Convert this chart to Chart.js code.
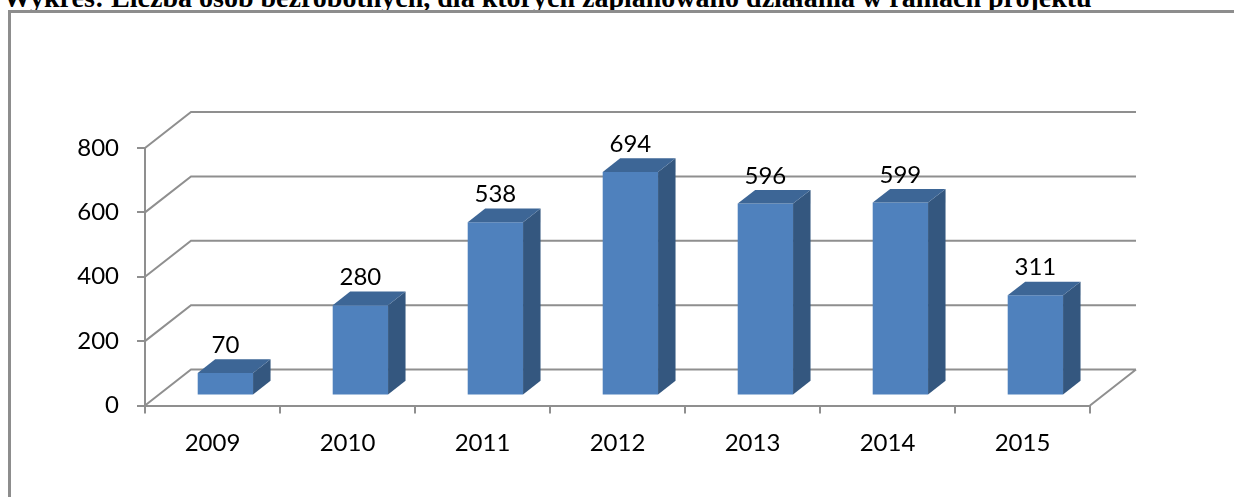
<!DOCTYPE html>
<html lang="pl">
<head>
<meta charset="utf-8">
<title>Liczba osób bezrobotnych</title>
<script src="https://cdn.jsdelivr.net/npm/chart.js@4.4.1/dist/chart.umd.min.js"></script>
<style>
  html, body { margin: 0; padding: 0; background: #fff; overflow: hidden; }
  #page { position: relative; width: 1234px; height: 497px; }
  #title {
    position: absolute; left: 3px; top: -16px;
    font: bold 28px 'Liberation Serif', 'Times New Roman', serif;
    line-height: 28px; white-space: nowrap; color: #000;
  }
  #frame {
    position: absolute; left: 8px; top: 10px; width: 1300px; height: 600px;
    border: 3px solid #8d8d8d; box-sizing: border-box;
  }
  #chart { position: absolute; left: 0; top: 0; }
</style>
</head>
<body>
<div id="page">
  <div id="title">Wykres: Liczba osób bezrobotnych, dla których zaplanowano działania w ramach projektu</div>
  <div id="frame"></div>
  <canvas id="chart" width="1234" height="497"></canvas>
</div>
<script>
const years = ['2009', '2010', '2011', '2012', '2013', '2014', '2015'];
const persons = [70, 280, 538, 694, 596, 599, 311];
const yTicks = [0, 200, 400, 600, 800];

const GRID = '#8f8f8f';
const FRONT = '#4f81bd';
const SIDE = '#34577f';
const TOP = '#3d6696';
const FONT = { family: 'Lato, "Open Sans", sans-serif', size: 24 };

// perspective: depth of the floor / back wall, and where the bars sit inside it
const DEPTH = { x: 46, y: -36 };
const BAR_FRONT = 0.28;
const BAR_DEPTH = 0.38;

const box3d = {
  id: 'box3d',
  beforeDatasetsDraw(chart) {
    const { ctx, chartArea: a, scales: { y } } = chart;
    ctx.save();
    ctx.strokeStyle = GRID;
    ctx.lineWidth = 2;
    ctx.beginPath();
    yTicks.forEach(v => {
      const py = y.getPixelForValue(v);
      ctx.moveTo(a.left, py);
      ctx.lineTo(a.left + DEPTH.x, py + DEPTH.y);
      ctx.lineTo(a.right + DEPTH.x, py + DEPTH.y);
    });
    // right edge of the floor
    const base = y.getPixelForValue(0);
    ctx.moveTo(a.right, base);
    ctx.lineTo(a.right + DEPTH.x, base + DEPTH.y);
    ctx.stroke();
    ctx.restore();
  },
  beforeDatasetDraw(chart) {
    chart.ctx.save();
    chart.ctx.translate(DEPTH.x * BAR_FRONT, DEPTH.y * BAR_FRONT);
  },
  afterDatasetDraw(chart, args) {
    const ctx = chart.ctx;
    const dx = DEPTH.x * BAR_DEPTH, dy = DEPTH.y * BAR_DEPTH;
    args.meta.data.forEach(bar => {
      const l = bar.x - bar.width / 2, r = bar.x + bar.width / 2;
      ctx.fillStyle = SIDE;
      ctx.beginPath();
      ctx.moveTo(r, bar.y);
      ctx.lineTo(r + dx, bar.y + dy);
      ctx.lineTo(r + dx, bar.base + dy);
      ctx.lineTo(r, bar.base);
      ctx.closePath();
      ctx.fill();
      ctx.fillStyle = TOP;
      ctx.beginPath();
      ctx.moveTo(l, bar.y);
      ctx.lineTo(l + dx, bar.y + dy);
      ctx.lineTo(r + dx, bar.y + dy);
      ctx.lineTo(r, bar.y);
      ctx.closePath();
      ctx.fill();
    });
    ctx.restore();
  },
  afterDatasetsDraw(chart) {
    const ctx = chart.ctx;
    const meta = chart.getDatasetMeta(0);
    ctx.save();
    ctx.font = `${FONT.size}px ${FONT.family}`;
    ctx.fillStyle = '#000';
    ctx.textAlign = 'center';
    ctx.textBaseline = 'alphabetic';
    meta.data.forEach((bar, i) => {
      ctx.fillText(String(persons[i]),
        bar.x + DEPTH.x * BAR_FRONT,
        bar.y + DEPTH.y * BAR_FRONT - 20);
    });
    ctx.restore();
  }
};

new Chart(document.getElementById('chart'), {
  type: 'bar',
  data: {
    labels: years,
    datasets: [{
      data: persons,
      backgroundColor: FRONT,
      borderWidth: 0,
      barPercentage: 0.41,
      categoryPercentage: 1,
      clip: false
    }]
  },
  options: {
    responsive: false,
    animation: false,
    layout: { padding: { top: 148, right: 144, left: 0, bottom: 0 } },
    plugins: {
      legend: { display: false },
      tooltip: { enabled: false }
    },
    scales: {
      x: {
        grid: { drawOnChartArea: false, tickLength: 8, color: GRID, lineWidth: 2, offset: true },
        border: { color: GRID, width: 2 },
        ticks: { font: FONT, color: '#000', padding: 15 },
        afterFit: s => { s.height = 91.5; }
      },
      y: {
        min: 0,
        max: 800,
        grid: { drawOnChartArea: false, tickLength: 8, color: GRID, lineWidth: 2 },
        border: { color: GRID, width: 2 },
        ticks: { stepSize: 200, font: FONT, color: '#000', padding: 18 },
        afterFit: s => { s.width = 145; }
      }
    }
  },
  plugins: [box3d]
});
</script>
</body>
</html>
